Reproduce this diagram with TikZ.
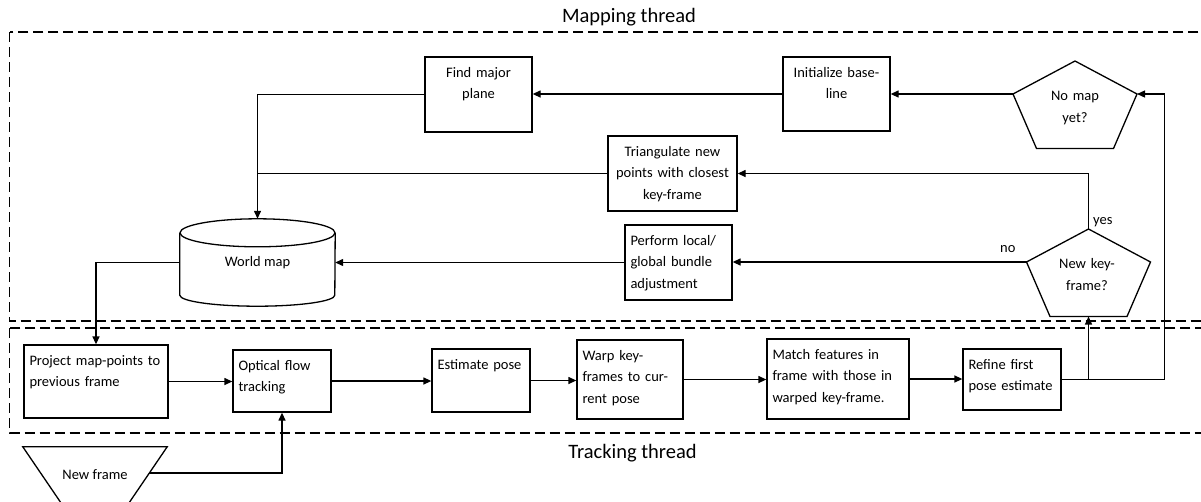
\documentclass[tikz,border=0pt]{standalone}
\usepackage{fontspec}
\setmainfont{Carlito}
\usetikzlibrary{calc}
\usetikzlibrary{arrows.meta}

\newcommand{\boxfont}{\fontsize{14.5pt}{21.5pt}\selectfont}
\newcommand{\titlefont}{\fontsize{20.5pt}{24pt}\selectfont}

\begin{document}
\begin{tikzpicture}[x=1pt, y=1pt,
  box/.style 2 args={draw, line width=1.3pt, text width=#1pt-11pt, inner xsep=5.5pt, inner ysep=0pt,
    text height=20pt, text depth=#2pt-20pt, font=\boxfont, align=left},
  cbox/.style 2 args={box={#1}{#2}, align=center},
  outline/.style={line width=1.3pt},
  link/.style={line width=1.3pt},
  arrow/.style={line width=1.3pt, -{Triangle[length=8pt, width=7pt]}},
  thread/.style={line width=1.3pt, dash pattern=on 10pt off 5pt},
  threadtitle/.style={font=\titlefont, inner sep=0pt},
  lbl/.style={font=\boxfont, inner sep=0pt},
  ptxt/.style={font=\boxfont, inner sep=0pt, text width=90pt, align=center}]

\useasboundingbox (0,0) rectangle (1201,-501);
\clip (0,0) rectangle (1201,-501);

% the two threads
\draw[thread] (9.6,-32) rectangle (1215,-321);
\draw[thread] (9.6,-328) rectangle (1215,-433);
\node[threadtitle, anchor=base] (mapping) at (629,-22) {Mapping thread};
\node[threadtitle, anchor=base] (tracking) at (632.5,-458) {Tracking thread};

% mapping thread
\node[cbox={107}{75}] (major) at (478.5,-94.5) {Find major\\plane};
\node[cbox={107}{74}] (baseline) at (836.5,-94) {Initialize base-\\line};
\node[cbox={129}{75}] (triang) at (672.5,-173.5) {Triangulate new\\points with closest\\key-frame};
\node[box={107}{75}] (bundle) at (678.5,-262.5) {Perform local/\\global bundle\\adjustment};

% world map
\node[lbl, minimum width=155pt, minimum height=87pt] (worldmap) at (257.5,-262.5) {World map};
\draw[outline] ([yshift=-14pt]worldmap.north) ellipse [x radius=77.5pt, y radius=14pt];
\draw[outline] ([yshift=-14pt]worldmap.north west) -- ([yshift=11pt]worldmap.south west)
  arc [start angle=180, end angle=360, x radius=77.5pt, y radius=11pt] -- ([yshift=-14pt]worldmap.north east);

% decisions
\foreach \pn/\px/\py in {nomap/1075/-61, newkf/1088.5/-229} {
  \coordinate (\pn-t) at (\px,\py);
  \coordinate (\pn-r) at (\px+62,\py-33);
  \coordinate (\pn-br) at (\px+38.5,\py-87.5);
  \coordinate (\pn-b) at (\px,\py-87.5);
  \coordinate (\pn-bl) at (\px-38.5,\py-87.5);
  \coordinate (\pn-l) at (\px-62,\py-33);
  \draw[outline] (\pn-t) -- (\pn-r) -- (\pn-br) -- (\pn-bl) -- (\pn-l) -- cycle;
}
\node[ptxt, anchor=base] (nomap) at (1075,-100.5) {No map\\yet?};
\node[ptxt, anchor=base] (newkf) at (1087,-268.5) {New key-\\frame?};

% tracking thread
\node[box={144}{73}] (project) at (96,-381.5) {Project map-points to\\previous frame};
\node[box={98}{62}] (optflow) at (282,-381) {Optical flow\\tracking};
\node[box={98}{63}] (estimate) at (481,-380.5) {Estimate pose};
\node[box={106}{79}] (warp) at (630,-379.5) {Warp key-\\frames to cur-\\rent pose};
\node[box={142}{80}] (match) at (838,-379) {Match features in\\frame with those in\\warped key-frame.};
\node[box={98}{61}] (refine) at (1012,-379.5) {Refine first\\pose estimate};

% new frame
\node[lbl, minimum width=144pt, minimum height=56pt] (newframe) at (95,-475) {New frame};
\draw[outline] (newframe.north west) -- (newframe.north east) -- ([xshift=-38.4pt]newframe.south east)
  -- ([xshift=38.4pt]newframe.south west) -- cycle;
\coordinate (newframe-r) at ($(newframe.north east)!0.464!([xshift=-38.4pt]newframe.south east)$);

% connectors
\draw[arrow] (nomap-l) -- (baseline.east);
\draw[arrow] (baseline.west) -- (baseline.west -| major.east);
\draw[arrow] (major.west) -| (worldmap.north);
\draw[link] (triang.west) -- (triang.west -| worldmap.north);
\draw[arrow] (newkf-t) |- (triang.east);
\draw[arrow] (newkf-l) -- (newkf-l -| bundle.east);
\draw[arrow] (bundle.west) -- (worldmap.east);
\draw[arrow] (worldmap.west) -| (project.north);
\draw[arrow] (project.east) -- (project.east -| optflow.west);
\draw[arrow] (optflow.east) -- (optflow.east -| estimate.west);
\draw[arrow] (estimate.east) -- (estimate.east -| warp.west);
\draw[arrow] (warp.east) -- (warp.east -| match.west);
\draw[arrow] (match.east) -- (match.east -| refine.west);
\draw[arrow] (refine.east) -| (newkf-b);
\draw[arrow] (refine.east) -- ++(103,0) |- (nomap-r);
\draw[arrow] (newframe-r) -| (optflow.south);

\node[lbl, anchor=base west] (yes) at (1093,-224) {yes};
\node[lbl, anchor=base west] (no) at (1000,-252) {no};

\end{tikzpicture}
\end{document}
